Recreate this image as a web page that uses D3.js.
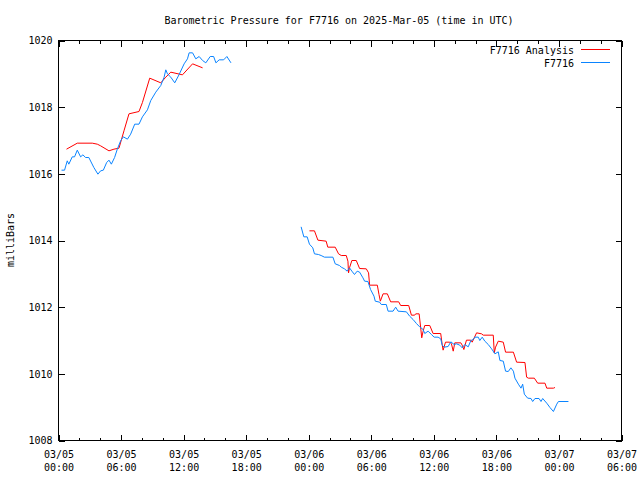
<!DOCTYPE html>
<html><head><meta charset="utf-8">
<script src="https://cdn.jsdelivr.net/npm/d3@7"></script>
<style>
body{margin:0;background:#fff;}
svg{display:block;}
text{font-family:"DejaVu Sans Mono","Liberation Mono",monospace;font-size:10px;fill:#000;}
</style></head>
<body>
<svg id="chart" width="640" height="480"></svg>
<script>
// ---- data (hours since 2025-03-05 00:00 UTC) ----
const title = "Barometric Pressure for F7716 on 2025-Mar-05 (time in UTC)";
const yLabel = "milliBars";
const seriesNames = ["F7716 Analysis", "F7716"];
const yTicks = [1008, 1010, 1012, 1014, 1016, 1018, 1020];
const xTickHours = [0, 6, 12, 18, 24, 30, 36, 42, 48, 54];

const anaHours = [0.77,1.80,3.24,3.72,4.04,4.84,5.32,5.80,6.28,6.76,7.72,8.05,8.75,9.81,10.29,10.77,11.89,12.86,13.82,
  24.07,24.55,24.88,25.67,25.83,26.54,26.86,27.12,27.60,27.76,27.82,27.91,28.14,28.56,28.88,29.52,29.74,29.84,30.58,30.74,30.87,31.13,31.54,31.86,32.63,32.82,33.59,33.85,34.16,34.26,34.59,34.74,34.84,34.97,35.13,35.61,35.93,36.66,36.80,36.89,37.12,37.53,37.69,37.86,38.01,38.59,38.72,38.88,39.13,39.55,39.68,40.10,40.58,40.74,41.70,41.80,41.92,42.18,42.66,42.88,43.63,43.94,44.74,44.90,45.07,45.64,45.96,46.66,46.83,47.47,47.62];
const anaValues = [1016.74,1016.92,1016.92,1016.89,1016.84,1016.69,1016.74,1016.77,1017.29,1017.80,1017.87,1018.14,1018.87,1018.73,1018.90,1019.05,1018.97,1019.30,1019.18,
  1014.29,1014.29,1014.01,1013.98,1013.80,1013.80,1013.60,1013.55,1013.55,1013.38,1013.03,1013.18,1013.40,1013.40,1013.16,1013.15,1013.03,1012.66,1012.66,1012.38,1012.18,1012.40,1012.40,1012.16,1012.16,1012.05,1012.05,1011.76,1011.76,1011.80,1011.80,1011.38,1011.08,1011.28,1011.45,1011.45,1011.21,1011.21,1010.88,1010.71,1010.95,1010.95,1010.90,1010.68,1010.93,1010.93,1010.86,1010.73,1011.01,1011.01,1010.95,1011.23,1011.20,1011.16,1011.16,1010.63,1010.80,1010.98,1010.95,1010.65,1010.65,1010.35,1010.34,1009.90,1009.87,1009.87,1009.72,1009.72,1009.57,1009.57,1009.59];

const obsHours = [0.29,0.58,0.84,0.99,1.32,1.54,1.80,2.12,2.34,2.60,2.91,3.39,3.78,4.04,4.30,4.62,4.84,5.07,5.38,5.64,5.96,6.22,6.61,6.92,7.31,7.72,8.05,8.53,8.85,9.33,9.81,10.13,10.29,10.45,10.77,11.15,11.57,12.05,12.37,12.53,12.86,13.17,13.49,13.82,14.13,14.55,14.88,15.10,15.41,15.84,16.15,16.54,
  23.27,23.53,23.85,24.07,24.39,24.55,24.93,25.19,25.51,26.32,26.54,26.95,27.12,27.43,27.69,27.91,28.14,28.39,28.65,28.88,29.20,29.36,29.68,29.93,30.26,30.38,30.80,30.96,31.44,31.61,32.09,32.34,32.57,33.37,33.68,34.01,34.33,34.64,34.97,35.13,35.45,35.77,36.03,36.41,36.66,36.80,36.99,37.37,37.63,37.95,38.17,38.49,38.72,38.97,39.30,39.55,39.78,39.93,40.26,40.41,40.64,40.89,41.22,41.54,41.86,42.18,42.34,42.66,42.88,43.14,43.39,43.63,43.78,44.11,44.36,44.52,44.68,45.00,45.32,45.48,45.70,46.09,46.28,46.44,46.83,47.14,47.47,47.79,47.95,48.91];
const obsValues = [1016.11,1016.11,1016.39,1016.29,1016.51,1016.51,1016.71,1016.51,1016.57,1016.49,1016.49,1016.19,1015.99,1016.09,1016.11,1016.34,1016.41,1016.29,1016.49,1016.74,1016.99,1017.11,1017.04,1017.19,1017.49,1017.49,1017.71,1017.92,1018.20,1018.45,1018.65,1018.90,1019.12,1019.00,1018.90,1018.73,1018.98,1019.30,1019.45,1019.63,1019.63,1019.45,1019.52,1019.40,1019.33,1019.52,1019.52,1019.33,1019.42,1019.42,1019.52,1019.33,
  1014.41,1014.11,1014.11,1013.89,1013.78,1013.60,1013.58,1013.55,1013.50,1013.50,1013.30,1013.25,1013.20,1013.15,1013.08,1013.18,1013.08,1012.98,1013.08,1013.05,1012.88,1012.78,1012.77,1012.53,1012.33,1012.18,1012.15,1012.08,1012.08,1011.88,1011.88,1012.00,1011.88,1011.86,1011.73,1011.63,1011.51,1011.41,1011.33,1011.21,1011.28,1011.18,1011.10,1011.10,1011.05,1010.86,1010.80,1010.82,1010.96,1010.88,1010.90,1010.86,1010.78,1010.88,1010.81,1011.00,1011.03,1011.10,1011.10,1011.00,1011.10,1010.98,1010.88,1010.75,1010.60,1010.66,1010.40,1010.38,1010.08,1010.07,1010.18,1010.08,1009.87,1009.69,1009.57,1009.69,1009.39,1009.27,1009.26,1009.17,1009.26,1009.26,1009.17,1009.26,1009.12,1008.99,1008.87,1009.09,1009.17,1009.17];

const colors = ["#ff0000", "#0a84ff"];

// ---- drawing ----
const svg = d3.select("#chart");
const M = {left: 58.5, right: 621.5, top: 40.5, bottom: 440.5};
const t0 = Date.UTC(2025, 2, 5, 0, 0);
const toDate = h => new Date(t0 + h * 3600e3);

const x = d3.scaleUtc().domain([toDate(0), toDate(54)]).range([M.left, M.right]);
const y = d3.scaleLinear().domain([1008, 1020]).range([M.bottom, M.top]);

// minor x ticks every 2 hours
const minorHours = d3.range(0, 55, 2).filter(h => h % 6 !== 0);
svg.append("g").attr("transform", `translate(0,${M.bottom})`)
  .call(d3.axisBottom(x).tickValues(minorHours.map(toDate)).tickSizeInner(-3).tickSizeOuter(0).tickFormat(""));
svg.append("g").attr("transform", `translate(0,${M.top})`)
  .call(d3.axisTop(x).tickValues(minorHours.map(toDate)).tickSizeInner(-3).tickSizeOuter(0).tickFormat(""));

// major x ticks
const fmt = d3.utcFormat("%m/%d|%H:%M");
const gx = svg.append("g").attr("transform", `translate(0,${M.bottom})`)
  .call(d3.axisBottom(x).tickValues(xTickHours.map(toDate)).tickSizeInner(-6).tickSizeOuter(0).tickPadding(0)
    .tickFormat(fmt));
gx.selectAll(".tick text").each(function(d) {
  const parts = fmt(d).split("|");
  const t = d3.select(this).text(null).attr("y", 0).attr("dy", null);
  t.append("tspan").attr("x", 0).attr("y", 17).text(parts[0]);
  t.append("tspan").attr("x", 0).attr("y", 30).text(parts[1]);
});
svg.append("g").attr("transform", `translate(0,${M.top})`)
  .call(d3.axisTop(x).tickValues(xTickHours.map(toDate)).tickSizeInner(-6).tickSizeOuter(0).tickFormat(""));

// y ticks
svg.append("g").attr("transform", `translate(${M.left},0)`)
  .call(d3.axisLeft(y).tickValues(yTicks).tickSizeInner(-6).tickSizeOuter(0).tickPadding(6).tickFormat(d3.format("d")));
svg.append("g").attr("transform", `translate(${M.right},0)`)
  .call(d3.axisRight(y).tickValues(yTicks).tickSizeInner(-6).tickSizeOuter(0).tickFormat(""));

svg.selectAll(".domain").remove();
svg.selectAll(".tick line").attr("stroke", "#000").attr("shape-rendering", "crispEdges");
svg.selectAll(".tick text").attr("font-family", null).attr("font-size", null).attr("fill", "#000");

// frame
svg.append("rect").attr("x", M.left).attr("y", M.top)
  .attr("width", M.right - M.left).attr("height", M.bottom - M.top)
  .attr("fill", "none").attr("stroke", "#000").attr("shape-rendering", "crispEdges");

// series
function build(hours, values) {
  const pts = [];
  for (let i = 0; i < hours.length; i++) {
    if (i > 0 && hours[i] - hours[i - 1] > 3) pts.push(null);
    pts.push({d: toDate(hours[i]), v: values[i]});
  }
  return pts;
}
const line = d3.line().defined(p => p !== null).x(p => x(p.d)).y(p => y(p.v));
svg.append("path").datum(build(anaHours, anaValues))
  .attr("d", line).attr("fill", "none").attr("stroke", colors[0]).attr("stroke-width", 1);
svg.append("path").datum(build(obsHours, obsValues))
  .attr("d", line).attr("fill", "none").attr("stroke", colors[1]).attr("stroke-width", 1);

// title, ylabel
svg.append("text").attr("x", 339).attr("y", 24).attr("text-anchor", "middle").text(title);
svg.append("text").attr("transform", "translate(14,240) rotate(-90)").attr("text-anchor", "middle").text(yLabel);

// legend
const legY = [49.5, 62.5];
seriesNames.forEach((n, i) => {
  svg.append("text").attr("x", 574).attr("y", legY[i] + 4).attr("text-anchor", "end").text(n);
  svg.append("line").attr("x1", 581).attr("x2", 610).attr("y1", legY[i]).attr("y2", legY[i])
    .attr("stroke", colors[i]).attr("stroke-width", 1).attr("shape-rendering", "crispEdges");
});
</script>
</body></html>
